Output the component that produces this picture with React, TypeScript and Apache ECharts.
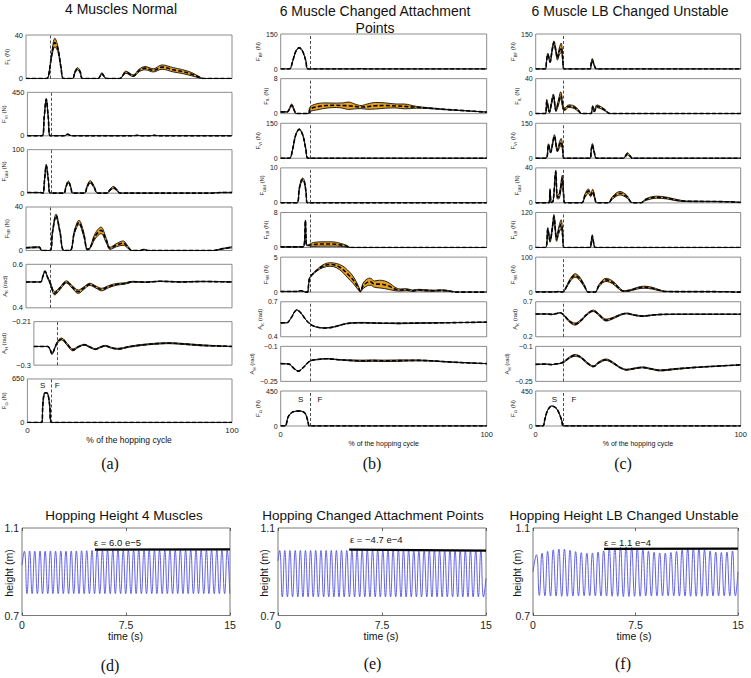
import React, { useEffect, useRef } from 'react';
import * as echarts from 'echarts';

type P = [number, number, number]; // [x %, mean, half band width]

// ---------- (a) 4 Muscles Normal ----------
const aFL: P[] = [[0,0,0],[10,0,0],[11,3,0.5],[12.5,22,2],[14,33,4],[15.5,27,2.5],[17,10,1],[18.3,0,0],[22.5,0,0],[23.8,6,1],[25,9,1],[26.3,6,1],[27.5,0,0],[35,0,0],[36.8,4.5,0.8],[39,0,0],[45.5,0,0],[48.5,5.8,1],[52,2.5,0.8],[55,7.5,1.2],[57.8,9.5,1.5],[61.8,7.5,1.5],[66,10.5,2],[71.5,8,2],[75.6,6.5,1.8],[80.4,4,1.5],[84.5,0.8,0.5],[86,0,0],[100,0,0]];
const aFVI: P[] = [[0,0,0],[7.2,0,0],[8.2,190,5],[9.2,378,8],[10.2,190,5],[11.2,0,0],[18,0,0],[19.7,17,3],[21.5,0,0],[52,0,0],[53.7,5,1],[55.5,0,0],[60.5,0,0],[62,5,1],[63.5,0,0],[100,0,0]];
const aFGM: P[] = [[0,1.5,0],[6.5,1.5,0],[7.6,0,0],[8.4,32,1],[9.2,64,2],[10.2,32,1],[11.3,0,0],[17.8,0,0],[18.8,14,1],[20,26,2],[21.2,14,1],[22.2,0,0],[27.8,0,0],[29.2,15,2],[30.7,26,3],[32.5,15,2],[34.3,0,0],[38.8,0,0],[40.3,7,2],[42,13,2.5],[43.8,7,2],[45.3,0,0],[90,0,0],[95,1.5,0.3],[100,1.5,0.3]];
const aFSB: P[] = [[0,2.5,0.3],[6.5,3,0.5],[7.6,0,0],[11.7,0,0],[12.8,16,1],[14.6,32,1.5],[16.5,17,1],[18.4,0,0],[21.4,0,0],[23.5,17,1.5],[25.7,25.8,2],[28,15,2],[29.8,1,0.5],[31,2,0.5],[33.5,13,2.5],[36.4,18.5,3],[39,9,2],[40.8,2,1],[44,5,1.5],[47.2,6.8,2],[49.5,3,1],[51.3,0,0],[55.5,0,0],[57.3,1,0.3],[59,0,0],[91,0,0],[95,1.5,0.3],[100,3,0.5]];
const aAK: P[] = [[0,0.519,0],[7,0.519,0],[8.2,0.545,0.002],[9.2,0.568,0.003],[10.5,0.54,0.003],[11.7,0.515,0.005],[14,0.467,0.008],[16.5,0.49,0.006],[19.7,0.519,0.005],[22.5,0.495,0.006],[25.4,0.474,0.008],[28,0.49,0.006],[31,0.508,0.005],[34,0.495,0.005],[36.7,0.484,0.006],[40,0.497,0.005],[44,0.508,0.004],[48,0.512,0.003],[52,0.52,0.002],[58,0.518,0.001],[65,0.522,0.001],[75,0.519,0.001],[85,0.521,0.001],[100,0.519,0]];
const aAH: P[] = [[0,-0.2613,0],[7,-0.2613,0],[8.2,-0.268,0.001],[9.2,-0.2768,0.001],[10.5,-0.265,0.001],[12,-0.252,0.002],[14,-0.2459,0.002],[17,-0.258,0.002],[19.7,-0.2684,0.002],[22.5,-0.262,0.001],[25.4,-0.2578,0.001],[28,-0.262,0.001],[31,-0.267,0.001],[33.5,-0.263,0.001],[36,-0.26,0.001],[39,-0.264,0.001],[42.4,-0.2663,0.001],[48,-0.262,0.001],[55,-0.258,0.001],[62,-0.2555,0.001],[68,-0.2545,0.001],[75,-0.256,0.001],[85,-0.259,0.001],[100,-0.2613,0]];
const aFG: P[] = [[0,0,0],[7,0,0],[7.5,250,0],[8.2,430,0],[9.1,445,0],[10,425,0],[10.9,250,0],[11.7,0,0],[100,0,0]];
const aTicks = [[0,40],[0,450],[0,100],[0,40],[0.4,0.6],[-0.3,-0.21],[0,650]];
const aLabels = [['F','L','(N)'],['F','VI','(N)'],['F','GM','(N)'],['F','SB','(N)'],['A','K','(rad)'],['A','H','(rad)'],['F','G','(N)']];

// ---------- (b) 6 Muscle Changed Attachment Points ----------
const bFBF: P[] = [[0,0,0],[4.2,0,0],[5.7,30,1],[7.3,75,2],[9,91,2],[10.7,75,2],[12.2,35,1],[13.4,0,0],[36,0,0],[38.5,1.2,0.3],[41,0,0],[100,0,0]];
const bFIL: P[] = [[0,0.4,0],[3,0.4,0.05],[3.7,0.6,0.1],[5.3,1.9,0.3],[7,0.3,0.1],[7.5,0,0],[13.5,0,0],[14.2,1.0,0.5],[17.5,1.55,0.7],[22,1.85,0.6],[27,1.9,0.5],[30,1.85,0.6],[33,1.8,0.85],[36,1.65,0.55],[39,1.5,0.35],[42,1.6,0.6],[46,1.8,0.75],[51,1.85,0.6],[56,1.75,0.45],[60,1.65,0.55],[63,1.55,0.4],[66,1.45,0.2],[72,1.25,0.1],[80,0.95,0.05],[90,0.65,0],[100,0.35,0]];
const bFVI: P[] = [[0,0,0],[4.2,0,0],[5.7,35,1],[7.3,100,2],[9,124,2],[10.7,100,2],[12.2,40,1],[13.4,0,0],[100,0,0]];
const bFGM: P[] = [[0,0,0],[7.8,0,0],[9,4,0.3],[10,6.3,0.4],[10.7,6.7,0.4],[11.5,6,0.4],[12.3,3,0.3],[13,0,0],[100,0,0]];
const bFLB: P[] = [[0,0.15,0],[10,0.15,0],[11.3,0.3,0],[12,6.1,0.2],[12.6,0.5,0.1],[13.5,0.5,0.1],[14.2,0.55,0.25],[16,0.7,0.45],[20,0.8,0.5],[25,0.8,0.5],[29,0.6,0.35],[32,0.3,0.2],[34,0,0],[100,0,0]];
const bFSB: P[] = [[0,0.1,0],[8,0.1,0],[10,0.2,0],[12,0,0],[13,0,0],[13.6,1.2,0],[14.2,2.1,0.05],[17.5,3.1,0.1],[20.5,3.7,0.2],[24,3.95,0.25],[27,3.8,0.3],[30,3.3,0.45],[32.5,2.6,0.55],[35.3,1.7,0.5],[37.7,0.6,0.3],[38.7,0.1,0.05],[40,0.9,0.4],[42,1.4,0.5],[43.4,1.5,0.5],[45.5,1.15,0.45],[48,1.15,0.55],[50.5,1.05,0.55],[53,0.8,0.45],[55.5,0.45,0.25],[58,0.3,0.15],[61,0.35,0.15],[64,0.2,0.1],[67,0.3,0.1],[70,0.25,0.1],[74,0.2,0.08],[78,0.25,0.08],[82,0.15,0.05],[85,0,0],[100,0,0]];
const bAK: P[] = [[0,0.519,0],[3,0.52,0],[5,0.56,0],[7.8,0.63,0],[10,0.6,0],[12,0.55,0],[14.2,0.511,0],[17,0.485,0],[21.5,0.475,0.002],[26,0.485,0.002],[30,0.505,0.002],[33.7,0.517,0.002],[40,0.52,0.003],[45,0.518,0.002],[50,0.516,0.002],[58,0.515,0.003],[66,0.517,0.002],[80,0.52,0.001],[100,0.525,0]];
const bAH: P[] = [[0,-0.174,0],[4,-0.176,0],[6.5,-0.195,0],[8.6,-0.206,0],[11,-0.19,0],[14.2,-0.163,0.001],[18,-0.156,0.001],[22.3,-0.153,0.001],[28,-0.157,0.001],[33.7,-0.16,0.002],[40,-0.162,0.003],[45,-0.161,0.003],[50,-0.162,0.003],[58,-0.161,0.003],[66,-0.16,0.002],[75,-0.163,0.001],[82,-0.167,0.001],[100,-0.174,0]];
const bFG: P[] = [[0,0,0],[2.1,0,0],[3.7,120,0],[6.1,184,0],[9.4,193,0],[11.8,163,0],[13,80,0],[13.4,34,0],[13.9,0,0],[100,0,0]];
const bTicks = [[0,150],[0,8],[0,150],[0,10],[0,8],[0,5],[0.4,0.7],[-0.25,-0.1],[0,450]];
const bLabels = [['F','BF','(N)'],['F','IL','(N)'],['F','VI','(N)'],['F','GM','(N)'],['F','LB','(N)'],['F','SB','(N)'],['A','K','(rad)'],['A','H','(rad)'],['F','G','(N)']];

// ---------- (c) 6 Muscle LB Changed Unstable ----------
const cFBF: P[] = [[0,0,0],[4.6,0,0],[5.3,35,3],[5.9,63,5],[7,31,5],[8,80,8],[8.9,113,8],[9.8,80,8],[10.6,46,8],[11.5,75,15],[12.4,91,20],[13.2,45,10],[13.8,0,0],[26.5,0,0],[27.1,25,4],[27.6,39,6],[28.4,20,4],[29.8,0,0],[100,0,0]];
const cFIL: P[] = [[0,0,0],[4.7,0,0],[5.4,14.2,2],[6.7,2,1],[7.7,12,2],[8.6,20.4,2],[9.9,3.8,1.5],[11,12,3],[12.2,21,4],[13.5,5.8,2],[14.2,5,1.5],[15.5,8,1.5],[16.7,8.5,1.5],[19,7,1.5],[21,3,1],[22.4,0,0],[26.8,0,0],[27.8,7.7,1.5],[28.6,2.7,1],[29.8,8.5,1.5],[32,6.5,1.2],[34,3.5,0.8],[36.3,0,0],[100,0,0]];
const cFVI: P[] = [[0,0,0],[5,0,0],[6.2,58,4],[7.3,26,4],[8.2,60,5],[9.1,95,6],[10.6,33,6],[11.5,55,12],[12.4,70,15],[13.2,35,8],[13.8,0,0],[26.5,0,0],[27.1,35,4],[27.6,58,5],[28.6,25,4],[29.8,0,0],[42.8,0,0],[44,12,4],[44.7,19,5],[46,10,3],[47.2,0,0],[100,0,0]];
const cFGM: P[] = [[0,0,0],[6.4,0,0],[7,14.2,2],[7.6,0.5,0],[8.5,2,0.5],[9.8,35.4,2],[10.6,6.5,2],[11.5,8,3],[13,27.7,4],[13.6,10,3],[14.3,0,0],[22.4,0,0],[24,8,2],[25.7,13.5,2.5],[26.8,9,2],[27.8,13,2.5],[28.8,6,1.5],[29.8,0,0],[35.4,0,0],[37.5,6,1.5],[41.1,11,2],[44.5,7,1.5],[47.2,0,0],[51,0,0],[54,4,1],[59,6.5,1.2],[64,5.5,1],[69,3,0.8],[73.7,1.8,0.3],[85,1.6,0.2],[95,1.2,0.1],[100,0.5,0]];
const cFLB: P[] = [[0,0,0],[4.8,0,0],[5.9,63,5],[7,23,5],[8,60,8],[8.9,105,8],[10.2,29,8],[11.3,60,12],[12.4,80,15],[13.2,40,10],[13.8,0,0],[26.5,0,0],[27.1,20,4],[27.6,38,6],[28.3,15,3],[29.2,0,0],[100,0,0]];
const cFSB: P[] = [[0,0.5,0],[9,0.5,0],[11,1.5,0.3],[12.5,0.5,0],[13.2,0.5,0],[15,15,2],[17,36,4],[19.2,47.6,5],[21.5,38,5],[23.8,17,3],[25.7,0,0],[28.9,0,0],[31,20,3],[34.3,35,4.5],[37.5,28,4],[40.5,12,3],[42.8,3,1],[46,5,1.5],[50,12,2.5],[53.3,14,3],[57,11,2.5],[60,6,1.5],[63,2,0.5],[70,1.5,0.3],[80,1.5,0.2],[90,1.2,0.2],[95,0.8,0],[97,0,0],[100,0,0]];
const cAK: P[] = [[0,0.524,0],[5,0.526,0],[8,0.52,0],[10,0.53,0],[11.9,0.543,0.003],[14,0.5,0.008],[16.5,0.42,0.012],[19.2,0.381,0.015],[22,0.43,0.012],[25,0.52,0.01],[28.1,0.571,0.01],[31,0.51,0.012],[34.3,0.438,0.014],[38,0.47,0.01],[41,0.51,0.008],[44.4,0.533,0.006],[48,0.51,0.006],[52.5,0.495,0.005],[57,0.51,0.004],[63,0.52,0.002],[75,0.522,0.001],[100,0.522,0]];
const cAH: P[] = [[0,-0.177,0],[5,-0.176,0],[8,-0.178,0],[10,-0.175,0],[11.9,-0.173,0.001],[14,-0.165,0.002],[16.5,-0.148,0.003],[19.2,-0.1386,0.004],[22,-0.147,0.003],[25,-0.17,0.003],[28.1,-0.1857,0.002],[31,-0.168,0.003],[34.3,-0.157,0.003],[38,-0.172,0.003],[41,-0.19,0.002],[44.4,-0.2,0.002],[48,-0.195,0.002],[52,-0.19,0.002],[56,-0.196,0.002],[60.7,-0.203,0.002],[68,-0.197,0.002],[78,-0.19,0.001],[90,-0.184,0.001],[100,-0.179,0]];
const cFG: P[] = [[0,0,0],[3.4,0,0],[4.5,90,0],[5.8,200,0],[7.8,257,0],[9.8,235,0],[11.5,160,0],[12.8,60,0],[13.5,0,0],[100,0,0]];
const cTicks = [[0,150],[0,40],[0,150],[0,40],[0,120],[0,100],[0.2,0.7],[-0.25,-0.1],[0,450]];
const cLabels = bLabels;

// ---------- (d)(e)(f) hopping height [time s, height m] ----------
const hopD: [number, number][] = [[0,0.93],[0.17,0.994],[0.36,0.8],[0.55,0.995],[0.73,0.8],[0.92,0.994],[1.11,0.8],[1.3,0.995],[1.48,0.8],[1.67,0.994],[1.86,0.8],[2.05,0.995],[2.23,0.8],[2.42,0.994],[2.61,0.8],[2.8,0.995],[2.98,0.8],[3.17,0.994],[3.36,0.8],[3.55,0.995],[3.73,0.8],[3.92,0.995],[4.11,0.8],[4.3,0.996],[4.48,0.8],[4.67,0.996],[4.86,0.8],[5.05,0.997],[5.23,0.8],[5.42,0.997],[5.61,0.8],[5.8,0.997],[5.98,0.8],[6.17,0.997],[6.36,0.8],[6.55,0.997],[6.73,0.8],[6.92,0.997],[7.11,0.8],[7.3,0.997],[7.48,0.8],[7.67,0.997],[7.86,0.8],[8.05,0.997],[8.23,0.8],[8.42,0.997],[8.61,0.8],[8.8,0.997],[8.98,0.8],[9.17,0.997],[9.36,0.8],[9.55,0.997],[9.73,0.8],[9.92,0.997],[10.11,0.8],[10.3,0.997],[10.48,0.8],[10.67,0.997],[10.86,0.8],[11.05,0.997],[11.23,0.8],[11.42,0.997],[11.61,0.8],[11.8,0.997],[11.98,0.8],[12.17,0.997],[12.36,0.8],[12.55,0.997],[12.73,0.8],[12.92,0.997],[13.11,0.8],[13.3,0.997],[13.48,0.8],[13.67,0.997],[13.86,0.8],[14.05,0.997],[14.23,0.8],[14.42,0.997],[14.61,0.8],[14.8,0.997],[14.98,0.8]];
const hopE: [number, number][] = [[0,0.95],[0.12,0.997],[0.31,0.785],[0.49,0.997],[0.68,0.785],[0.86,0.997],[1.05,0.785],[1.24,0.997],[1.43,0.785],[1.61,0.997],[1.8,0.785],[1.98,0.997],[2.17,0.785],[2.35,0.997],[2.54,0.785],[2.72,0.997],[2.91,0.785],[3.1,0.997],[3.29,0.785],[3.47,0.997],[3.66,0.785],[3.84,0.997],[4.03,0.785],[4.21,0.997],[4.4,0.785],[4.58,0.997],[4.77,0.785],[4.96,0.997],[5.15,0.785],[5.33,0.997],[5.52,0.785],[5.7,0.997],[5.89,0.785],[6.07,0.997],[6.26,0.785],[6.44,0.997],[6.63,0.785],[6.82,0.997],[7.01,0.785],[7.19,0.997],[7.38,0.785],[7.56,0.997],[7.75,0.785],[7.93,0.997],[8.12,0.785],[8.3,0.997],[8.49,0.785],[8.68,0.997],[8.87,0.785],[9.05,0.997],[9.24,0.785],[9.42,0.997],[9.61,0.785],[9.79,0.996],[9.98,0.785],[10.16,0.996],[10.35,0.785],[10.54,0.995],[10.73,0.785],[10.91,0.995],[11.1,0.785],[11.28,0.995],[11.47,0.785],[11.65,0.995],[11.84,0.785],[12.02,0.995],[12.21,0.785],[12.4,0.995],[12.59,0.785],[12.77,0.995],[12.96,0.785],[13.14,0.995],[13.33,0.785],[13.51,0.995],[13.7,0.785],[13.88,0.995],[14.07,0.785],[14.26,0.995],[14.45,0.785],[14.63,0.995],[14.82,0.785],[15,0.87]];
const hopF: [number, number][] = [[0,0.9],[0.25,0.978],[0.46,0.792],[0.66,0.985],[0.87,0.79],[1.07,0.993],[1.28,0.789],[1.48,1.0],[1.69,0.789],[1.89,1.004],[2.1,0.788],[2.3,1.003],[2.51,0.788],[2.71,0.998],[2.92,0.789],[3.12,0.992],[3.33,0.79],[3.53,0.987],[3.74,0.79],[3.94,0.985],[4.15,0.79],[4.35,0.986],[4.56,0.79],[4.76,0.99],[4.97,0.789],[5.17,0.996],[5.38,0.789],[5.58,1.003],[5.79,0.788],[5.99,1.008],[6.2,0.788],[6.4,1.012],[6.61,0.787],[6.81,1.013],[7.02,0.787],[7.22,1.011],[7.43,0.788],[7.63,1.007],[7.84,0.788],[8.04,1.0],[8.25,0.789],[8.45,0.994],[8.66,0.789],[8.86,0.989],[9.07,0.79],[9.27,0.986],[9.48,0.79],[9.68,0.985],[9.89,0.79],[10.09,0.988],[10.3,0.79],[10.5,0.993],[10.71,0.789],[10.91,0.999],[11.12,0.789],[11.32,1.004],[11.53,0.788],[11.73,1.006],[11.94,0.788],[12.14,1.005],[12.35,0.788],[12.55,1.0],[12.76,0.789],[12.96,0.995],[13.17,0.789],[13.37,0.99],[13.58,0.79],[13.78,0.988],[13.99,0.79],[14.19,0.99],[14.4,0.79],[14.6,0.995],[14.81,0.79],[15,0.9]];
const epsD: [number, number][] = [[5.26,1.0015],[15,1.0021]];
const epsE: [number, number][] = [[5.14,1.0015],[15,0.9969]];
const epsF: [number, number][] = [[5.2,1.0045],[15,1.0055]];
const hopXTicks = [0, 7.5, 15];
const hopYTicks = [0.7, 1.1];

const FONT = '"Liberation Sans", Arial, Helvetica, sans-serif';
const SERIF = '"Liberation Serif", "Times New Roman", serif';
const BAND = '#E6A020';

const fmt = (v: number) => (v < 0 ? '\u2212' + String(-v) : String(v));

function buildOption() {
  const grid: any[] = [];
  const xAxis: any[] = [];
  const yAxis: any[] = [];
  const series: any[] = [];
  const graphic: any[] = [];

  const cols = [
    { left: 26, width: 206, top: 35, step: 57.33, height: 43.5, boundary: 11.7, tickFont: 7.5, xFont: 8, data: [aFL, aFVI, aFGM, aFSB, aAK, aAH, aFG], ticks: aTicks, labels: aLabels },
    { left: 280.7, width: 206, top: 34, step: 44.625, height: 35, boundary: 14.2, tickFont: 7, xFont: 7.5, data: [bFBF, bFIL, bFVI, bFGM, bFLB, bFSB, bAK, bAH, bFG], ticks: bTicks, labels: bLabels },
    { left: 535.7, width: 205, top: 34, step: 44.625, height: 35, boundary: 13.3, tickFont: 7, xFont: 7.5, data: [cFBF, cFIL, cFVI, cFGM, cFLB, cFSB, cAK, cAH, cFG], ticks: cTicks, labels: cLabels },
  ];

  let k = 0;
  cols.forEach((col) => {
    col.data.forEach((pts, i) => {
      const top = col.top + i * col.step;
      const last = i === col.data.length - 1;
      const [ymin, ymax] = col.ticks[i];
      const [sym, sub, unit] = col.labels[i];
      grid.push({ left: col.left, top, width: col.width, height: col.height, show: true, borderColor: '#6e6e6e', borderWidth: 0.8 });
      xAxis.push({
        gridIndex: k, type: 'value', min: 0, max: 100,
        axisLine: { show: false }, splitLine: { show: false }, axisTick: { show: false },
        axisLabel: last ? { show: true, customValues: [0, 100], fontSize: col.xFont, fontFamily: FONT, color: '#222', margin: 4 } : { show: false },
      });
      yAxis.push({
        gridIndex: k, type: 'value', min: ymin, max: ymax,
        axisLine: { show: false }, splitLine: { show: false }, axisTick: { show: false },
        axisLabel: { show: true, customValues: [ymin, ymax], formatter: fmt, fontSize: col.tickFont, fontFamily: FONT, color: '#222', margin: 3 },
        name: `{m|${sym}}{s|${sub}}{m| ${unit}}`,
        nameLocation: 'middle', nameRotate: 90, nameGap: 6,
        nameTextStyle: {
          fontFamily: FONT, color: '#222',
          rich: {
            m: { fontSize: 6, fontFamily: FONT, color: '#222', lineHeight: 8 },
            s: { fontSize: 4.2, fontFamily: FONT, color: '#222', lineHeight: 5, verticalAlign: 'bottom' },
          },
        },
      });
      // value first, x second: the stacked dimension is then the y value
      const lower = pts.map((p) => [p[1] - p[2], p[0]]);
      const width = pts.map((p) => [2 * p[2], p[0]]);
      const mean = pts.map((p) => [p[1], p[0]]);
      const enc = { x: 1, y: 0 };
      series.push({
        type: 'line', xAxisIndex: k, yAxisIndex: k, data: lower, encode: enc, stack: 'band' + k, stackStrategy: 'all',
        symbol: 'none', smooth: 0.35, lineStyle: { color: '#111', width: 0.9 }, z: 2,
      });
      series.push({
        type: 'line', xAxisIndex: k, yAxisIndex: k, data: width, encode: enc, stack: 'band' + k, stackStrategy: 'all',
        symbol: 'none', smooth: 0.35, lineStyle: { color: '#111', width: 0.9 }, areaStyle: { color: BAND, opacity: 1 }, z: 2,
      });
      series.push({
        type: 'line', xAxisIndex: k, yAxisIndex: k, data: mean, encode: enc,
        symbol: 'none', smooth: 0.35, lineStyle: { color: '#000', width: 1.6, type: [4, 2.2] }, z: 3,
        markLine: {
          silent: true, symbol: ['none', 'none'], label: { show: false },
          lineStyle: { color: '#222', width: 0.8, type: [3, 2] },
          data: [{ xAxis: col.boundary }],
        },
      });
      k++;
    });
  });

  // hopping panels
  const hops = [
    { left: 22, width: 208, data: hopD, eps: epsD },
    { left: 278, width: 208, data: hopE, eps: epsE },
    { left: 533, width: 205, data: hopF, eps: epsF },
  ];
  hops.forEach((h) => {
    grid.push({ left: h.left, top: 528, width: h.width, height: 87.5, show: true, borderColor: '#555', borderWidth: 0.8 });
    const g = grid.length - 1;
    xAxis.push({
      gridIndex: g, type: 'value', min: 0, max: 15, position: 'bottom',
      axisLine: { show: false }, splitLine: { show: false },
      axisTick: { show: true, inside: true, length: 3, customValues: hopXTicks, lineStyle: { color: '#444', width: 0.8 } },
      axisLabel: { show: true, customValues: hopXTicks, formatter: (v: number) => String(v), fontSize: 10.5, fontFamily: FONT, color: '#222', margin: 4 },
    });
    const xb = xAxis.length - 1;
    xAxis.push({
      gridIndex: g, type: 'value', min: 0, max: 15, position: 'top',
      axisLine: { show: false }, splitLine: { show: false },
      axisTick: { show: true, inside: true, length: 3, customValues: hopXTicks, lineStyle: { color: '#444', width: 0.8 } },
      axisLabel: { show: false },
    });
    yAxis.push({
      gridIndex: g, type: 'value', min: 0.7, max: 1.1,
      axisLine: { show: false }, splitLine: { show: false }, axisTick: { show: false },
      axisLabel: { show: true, customValues: hopYTicks, formatter: (v: number) => String(v), fontSize: 10.5, fontFamily: FONT, color: '#222', margin: 3 },
    });
    const yb = yAxis.length - 1;
    series.push({
      type: 'line', xAxisIndex: xb, yAxisIndex: yb, data: h.data, symbol: 'none', smooth: 0.5,
      lineStyle: { color: '#5050e4', width: 0.9 }, z: 2,
    });
    series.push({
      type: 'line', xAxisIndex: xb, yAxisIndex: yb, data: h.eps, symbol: 'none',
      lineStyle: { color: '#000', width: 2.2 }, z: 3,
    });
  });

  const txt = (text: string, x: number, y: number, size: number, opts: any = {}) => ({
    type: 'text', x, y, rotation: opts.rotation || 0, silent: true,
    style: {
      text, x: 0, y: 0, fill: '#111', textAlign: opts.align || 'center', textVerticalAlign: 'middle',
      font: `${size}px ${opts.family || FONT}`,
    },
  });

  graphic.push(
    txt('4 Muscles Normal', 121, 9, 14),
    txt('6 Muscle Changed Attachment', 375, 10.5, 14),
    txt('Points', 375, 27.5, 14),
    txt('6 Muscle LB Changed Unstable', 630, 10.5, 14),
    txt('% of the hopping cycle', 129, 440, 8.5),
    txt('% of the hopping cycle', 383.7, 443.5, 7),
    txt('% of the hopping cycle', 638, 443.5, 7),
    txt('S', 42.7, 385.5, 8), txt('F', 57.3, 385.5, 8),
    txt('S', 300.7, 399.3, 8), txt('F', 320, 399.3, 8),
    txt('S', 554.3, 399.3, 8), txt('F', 574, 399.3, 8),
    txt('(a)', 110, 463, 16, { family: SERIF }),
    txt('(b)', 372, 463, 16, { family: SERIF }),
    txt('(c)', 623, 463, 16, { family: SERIF }),
    txt('(d)', 110, 665, 16, { family: SERIF }),
    txt('(e)', 372.5, 663, 16, { family: SERIF }),
    txt('(f)', 623, 663, 16, { family: SERIF }),
    txt('Hopping Height 4 Muscles', 124, 515.5, 13.5),
    txt('Hopping Changed Attachment Points', 373, 515, 13.5),
    txt('Hopping Height LB Changed Unstable', 624, 515, 13.5),
    txt('height (m)', 8.5, 573, 10.5, { rotation: Math.PI / 2 }),
    txt('height (m)', 264, 573, 10.5, { rotation: Math.PI / 2 }),
    txt('height (m)', 517, 573, 10.5, { rotation: Math.PI / 2 }),
    txt('time (s)', 125.5, 635.5, 10.5),
    txt('time (s)', 381, 635.5, 10.5),
    txt('time (s)', 634, 635.5, 10.5),
    txt('\u03b5 = 6.0 e\u22125', 94, 542, 9.5, { align: 'left' }),
    txt('\u03b5 = \u22124.7 e\u22124', 350, 539, 9.5, { align: 'left' }),
    txt('\u03b5 = 1.1 e\u22124', 604, 542.5, 9.5, { align: 'left' }),
  );

  return { animation: false, backgroundColor: '#fff', grid, xAxis, yAxis, series, graphic };
}

export default function App() {
  const ref = useRef<HTMLDivElement>(null);
  useEffect(() => {
    if (!ref.current) return;
    const chart = echarts.init(ref.current, null, { renderer: 'svg' });
    chart.setOption(buildOption() as any);
    return () => chart.dispose();
  }, []);
  return <div ref={ref} style={{ position: 'fixed', left: 0, top: 0, width: 751, height: 678, background: '#fff' }} />;
}
